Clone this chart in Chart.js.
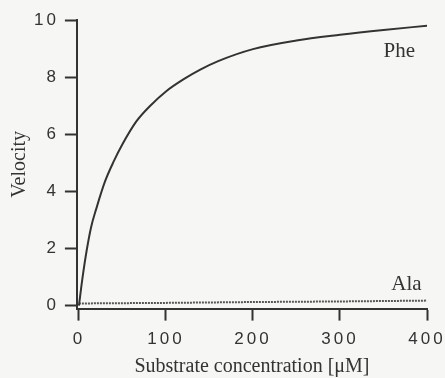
<!DOCTYPE html>
<html>
<head>
<meta charset="utf-8">
<script src="https://cdn.jsdelivr.net/npm/chart.js@4/dist/chart.umd.min.js"></script>
<style>
  body { margin: 0; background: #f6f6f4; }
  #wrap { width: 445px; height: 378px; }
</style>
</head>
<body>
<div id="wrap"><canvas id="kinetics" width="445" height="378"></canvas></div>
<script>
// substrate concentration (uM) and velocity
const pheConc = [0, 4, 9, 14, 20, 30, 40, 50, 66, 82, 100, 120, 140, 160, 200, 250, 300, 350, 400];
const pheVel = [0, 0.95, 1.95, 2.75, 3.4, 4.35, 5.05, 5.65, 6.45, 7.0, 7.5, 7.92, 8.27, 8.56, 8.98, 9.28, 9.48, 9.65, 9.8];
const alaConc = [0, 100, 200, 300, 400];
const alaVel = [0.08, 0.1, 0.13, 0.15, 0.18];
const xTicks = [0, 100, 200, 300, 400];
const yTicks = [0, 2, 4, 6, 8, 10];

const ink = '#333';
const serif = '"Liberation Serif", "Times New Roman", serif';

function toPoints(xs, ys) {
    return xs.map((x, i) => ({ x: x, y: ys[i] }));
}

// spaced-out tick digits like the original print, plain serif for titles
const textPlugin = {
    id: 'textPlugin',
    beforeDraw(chart) {
        chart.ctx.letterSpacing = '3px';
    },
    afterDraw(chart) {
        const ctx = chart.ctx;
        const area = chart.chartArea;
        const xs = chart.scales.x;
        const ys = chart.scales.y;
        ctx.letterSpacing = '0px';
        ctx.save();
        ctx.fillStyle = ink;
        ctx.font = '20px ' + serif;
        ctx.textAlign = 'center';
        ctx.textBaseline = 'alphabetic';
        ctx.fillText('Substrate concentration [\u03bcM]', (area.left + area.right) / 2, 372);

        ctx.save();
        ctx.translate(25, (area.top + area.bottom) / 2);
        ctx.rotate(-Math.PI / 2);
        ctx.fillText('Velocity', 0, 0);
        ctx.restore();

        ctx.font = '21px ' + serif;
        ctx.textAlign = 'left';
        ctx.fillText('Phe', xs.getPixelForValue(350), ys.getPixelForValue(8.7));
        ctx.fillText('Ala', xs.getPixelForValue(359), ys.getPixelForValue(0.55));
        ctx.restore();
    }
};

const config = {
    type: 'line',
    data: {
        datasets: [{
            label: 'Phe',
            data: toPoints(pheConc, pheVel),
            borderColor: ink,
            borderWidth: 2,
            pointRadius: 0,
            cubicInterpolationMode: 'monotone',
            fill: false
        }, {
            label: 'Ala',
            data: toPoints(alaConc, alaVel),
            borderColor: '#555',
            borderWidth: 2,
            borderDash: [2, 1],
            pointRadius: 0,
            fill: false
        }]
    },
    options: {
        responsive: false,
        animation: false,
        devicePixelRatio: 1,
        layout: { padding: { left: 34, right: 0, top: 20, bottom: 19 } },
        plugins: {
            legend: { display: false },
            tooltip: { enabled: false }
        },
        scales: {
            x: {
                type: 'linear',
                min: -2.3,
                max: 400,
                afterBuildTicks: (scale) => { scale.ticks = xTicks.map(v => ({ value: v })); },
                afterFit: (scale) => { scale.paddingRight = 18; scale.paddingLeft = 0; },
                grid: { drawOnChartArea: false, tickLength: 12, tickWidth: 2, tickColor: ink },
                border: { color: ink, width: 2 },
                ticks: { color: ink, padding: 9, maxRotation: 0, font: { family: 'Liberation Sans', size: 17 } }
            },
            y: {
                type: 'linear',
                min: -0.1,
                max: 10,
                afterBuildTicks: (scale) => { scale.ticks = yTicks.map(v => ({ value: v })); },
                afterFit: (scale) => { scale.paddingTop = 0; },
                grid: { drawOnChartArea: false, tickLength: 12, tickWidth: 2, tickColor: ink },
                border: { color: ink, width: 2 },
                ticks: { color: ink, padding: 6, font: { family: 'Liberation Sans', size: 17 } }
            }
        }
    },
    plugins: [textPlugin]
};

const kineticsChart = new Chart(document.getElementById('kinetics'), config);
</script>
</body>
</html>
